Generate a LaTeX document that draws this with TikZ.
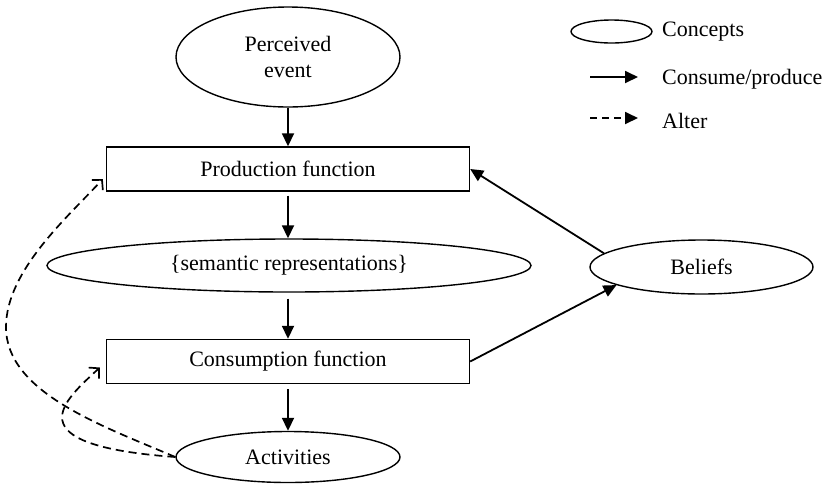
\documentclass[tikz,border=0pt]{standalone}
\usepackage{fontspec}
\setmainfont{Liberation Serif}
\usetikzlibrary{shapes.geometric,arrows.meta}
\begin{document}
\begin{tikzpicture}[x=1pt,y=-1pt,
  every node/.style={font=\fontsize{22}{26}\selectfont},
  concept/.style={draw,ellipse,line width=1.4pt,inner sep=0pt},
  func/.style={draw,rectangle,line width=1.4pt,inner sep=0pt,minimum width=363pt,minimum height=44pt},
  flow/.style={line width=1.8pt,-{Triangle[length=13pt,width=12pt]}},
  alter/.style={line width=1.7pt,dash pattern=on 8pt off 5pt,-{Straight Barb[length=7pt,width=15pt]}},
  alterkey/.style={line width=1.8pt,dash pattern=on 7pt off 5pt,-{Triangle[length=13pt,width=12pt]}},
  keytext/.style={anchor=west,inner sep=0pt}]
\useasboundingbox (0,0) rectangle (830,483);

% main chain
\node[concept,minimum width=224pt,minimum height=100pt,align=center] (pe) at (288,57) {Perceived\\event};
\node[func] (prod) at (288,169) {Production function};
\node[concept,minimum width=484pt,minimum height=53pt] (sem) at (289,265.5) {\{semantic representations\}};
\node[func] (cons) at (288,361.5) {Consumption function};
\node[concept,minimum width=224pt,minimum height=51pt] (act) at (288,457) {Activities};
\node[concept,minimum width=223pt,minimum height=54pt] (bel) at (701.5,267) {Beliefs};

\draw[flow] (pe) -- (prod);
\draw[flow,shorten <=4pt] (prod.south) -- (prod.south |- sem.north);
\draw[flow,shorten <=6pt] (cons.north |- sem.south) -- (cons.north);
\draw[flow,shorten <=5pt] (cons) -- (act);
\draw[flow] (bel.172) -- (prod.east);
\draw[flow] (cons.east) -- (bel.192);

% altering influences of activities
\draw[alter] (act.west) .. controls (100,425) and (6,392) .. (6,327)
  .. controls (6,270) and (70,215) .. ([xshift=-3pt,yshift=-10pt]prod.west);
\draw[alter] (act.west) .. controls (10,445) and (65,400) .. ([xshift=-6pt,yshift=-6pt]cons.west);

% key
\node[concept,minimum width=81pt,minimum height=23pt] (kc) at (611.5,31.5) {};
\node[keytext] (kct) at (662,32) {Concepts};
\coordinate (ka1) at (590,77);
\coordinate (ka2) at (638,77);
\draw[flow] (ka1) -- (ka2);
\node[keytext] (kat) at (662,79) {Consume/produce};
\coordinate (kd1) at (590,118);
\coordinate (kd2) at (638,118);
\draw[alterkey] (kd1) -- (kd2);
\node[keytext] (kdt) at (662,121) {Alter};
\end{tikzpicture}
\end{document}
